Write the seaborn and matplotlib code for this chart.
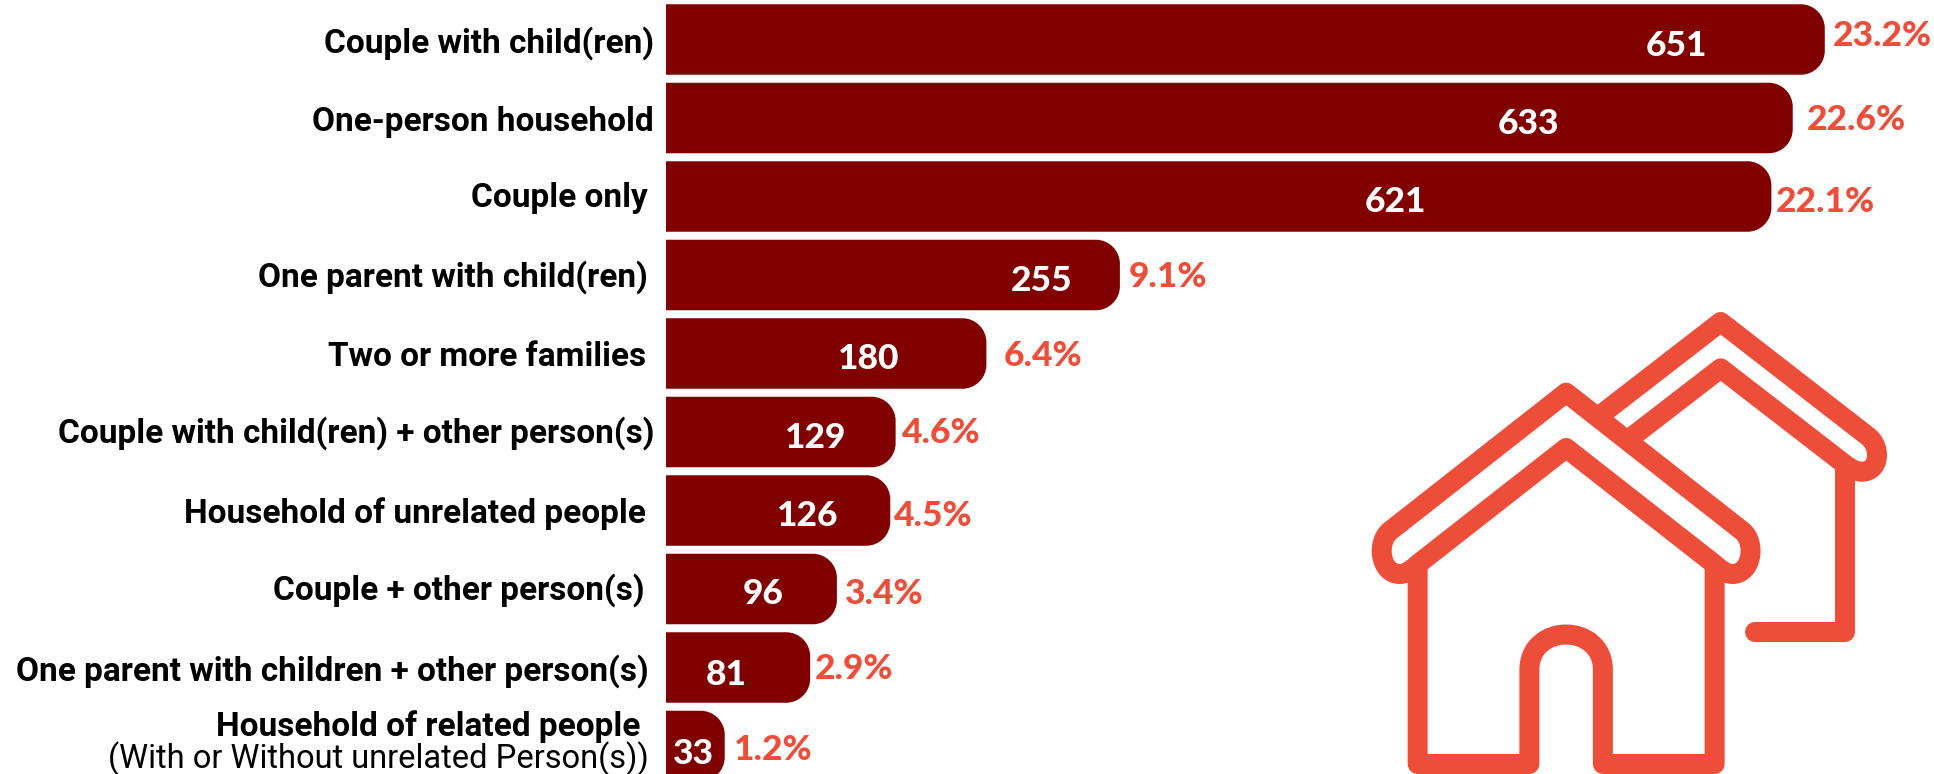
import pandas as pd
import matplotlib
matplotlib.use("Agg")
import matplotlib.pyplot as plt
from matplotlib.path import Path
from matplotlib.patches import PathPatch
import seaborn as sns

categories = ["Couple with child(ren)", "One-person household", "Couple only",
              "One parent with child(ren)", "Two or more families",
              "Couple with child(ren) + other person(s)", "Household of unrelated people",
              "Couple + other person(s)", "One parent with children + other person(s)",
              "Household of related people"]
counts = [651, 633, 621, 255, 180, 129, 126, 96, 81, 33]
shares = ["23.2%", "22.6%", "22.1%", "9.1%", "6.4%", "4.6%", "4.5%", "3.4%", "2.9%", "1.2%"]
sub_label = "(With or Without unrelated Person(s))"

# hand placed label nudges in pixels (the original is not aligned)
cat_dx = [-12, -12, -18, -18, -20, -12, -20, -21, -17, -26]
cat_dy = [4, 4, 1, 2, 4, 1, 3, 1, 4, -19]
count_dx = [-148, -264, -376, -78, -118, -80, -83, -74, -84, -31]
count_dy = [-7, -6, -5, -6, -6, -6, -6, -5, -8, -8]
share_dx = [8, 14, 4, 9, 17, 6, 4, 8, 5, 9]
share_dy = [3, -2, -6, -2, -3, -1, -6, -5, -2, -4]

DARK = "#800000"
RED = "#EC4E39"
W, H = 1934, 774
X0, PX_PER_UNIT = 666, 1.78
PITCH, RADIUS = 78.5, 24

sns.set_theme(style="white")
fig = plt.figure(figsize=(W / 100, H / 100), dpi=100)
ax = fig.add_axes([0, 0, 1, 1])

df = pd.DataFrame({"category": categories, "households": counts})
sns.barplot(data=df, x="households", y="category", order=categories, color=DARK,
            saturation=1, width=0.898, ax=ax)
ax.set_xlim(-X0 / PX_PER_UNIT, (W - X0) / PX_PER_UNIT)
ax.set_ylim((H - 39.5) / PITCH, -39.5 / PITCH)
ax.axis("off")

# seaborn bars have square ends, swap them for ones rounded on the right
rx, ry = RADIUS / PX_PER_UNIT, RADIUS / PITCH
k = 0.45
for bar in list(ax.patches):
    x1 = bar.get_x() + bar.get_width()
    y0, y1 = bar.get_y(), bar.get_y() + bar.get_height()
    verts = [(0, y0), (x1 - rx, y0),
             (x1 - rx * k, y0), (x1, y0 + ry * k), (x1, y0 + ry),
             (x1, y1 - ry),
             (x1, y1 - ry * k), (x1 - rx * k, y1), (x1 - rx, y1),
             (0, y1), (0, y0)]
    codes = [Path.MOVETO, Path.LINETO, Path.CURVE4, Path.CURVE4, Path.CURVE4, Path.LINETO,
             Path.CURVE4, Path.CURVE4, Path.CURVE4, Path.LINETO, Path.CLOSEPOLY]
    ax.add_patch(PathPatch(Path(verts, codes), facecolor=DARK, edgecolor="none"))
    bar.remove()

for i, (cat, n, share) in enumerate(zip(categories, counts, shares)):
    ax.annotate(cat, (0, i), xytext=(cat_dx[i], -cat_dy[i]), textcoords="offset pixels",
                ha="right", va="center", fontsize=24, fontweight="bold",
                family="Roboto", color="black")
    ax.annotate(str(n), (n, i), xytext=(count_dx[i], count_dy[i]), textcoords="offset pixels",
                ha="center", va="center", fontsize=25.5, fontweight=900,
                family="Lato", color="white")
    ax.annotate(share, (n, i), xytext=(share_dx[i], share_dy[i]), textcoords="offset pixels",
                ha="left", va="center", fontsize=25.5, fontweight=900,
                family="Lato", color=RED)
ax.annotate(sub_label, (0, 9), xytext=(-17, -13), textcoords="offset pixels",
            ha="right", va="center", fontsize=23.5, family="Roboto", color="black")

# house icon, traced in pixel space on an overlay
icon = fig.add_axes([0, 0, 1, 1], zorder=5)
icon.set_xlim(0, W)
icon.set_ylim(H, 0)
icon.axis("off")


def pt(x, y):
    return 1340 + x / 2.64, 290 + y / 3


def stroke(points, codes=None, cap="butt"):
    verts = [pt(*p) for p in points]
    path = Path(verts, codes) if codes else Path(verts)
    icon.add_patch(PathPatch(path, facecolor="none", edgecolor=RED, lw=14.4,
                             joinstyle="round", capstyle=cap))


M, L, C, Z = Path.MOVETO, Path.LINETO, Path.CURVE4, Path.CLOSEPOLY
# front roof
stroke([(597, 308), (133, 722), (95, 755), (105, 852), (158, 852),
        (175, 852), (190, 838), (205, 823), (597, 474),
        (989, 823), (1004, 838), (1019, 852), (1036, 852),
        (1089, 852), (1099, 755), (1061, 722), (597, 308), (597, 308)],
       [M, L, C, C, C, C, C, C, L, L, C, C, C, C, C, C, L, Z])
# front walls and door
stroke([(205, 835), (205, 1422), (500, 1422), (500, 1140),
        (500, 998), (694, 998), (694, 1140), (694, 1422), (989, 1422), (989, 835)],
       [M, L, L, L, C, C, C, L, L, L])
# back roof
stroke([(690, 373), (1005, 96), (1395, 440), (1430, 472), (1425, 545), (1378, 545),
        (1362, 545), (1350, 537), (1335, 525), (1005, 235), (770, 441)],
       [M, L, L, C, C, C, C, C, C, L, L])
# back wall
stroke([(1333, 530), (1333, 1027), (1095, 1027)], cap="round")

fig.savefig("out.png", dpi=100)
